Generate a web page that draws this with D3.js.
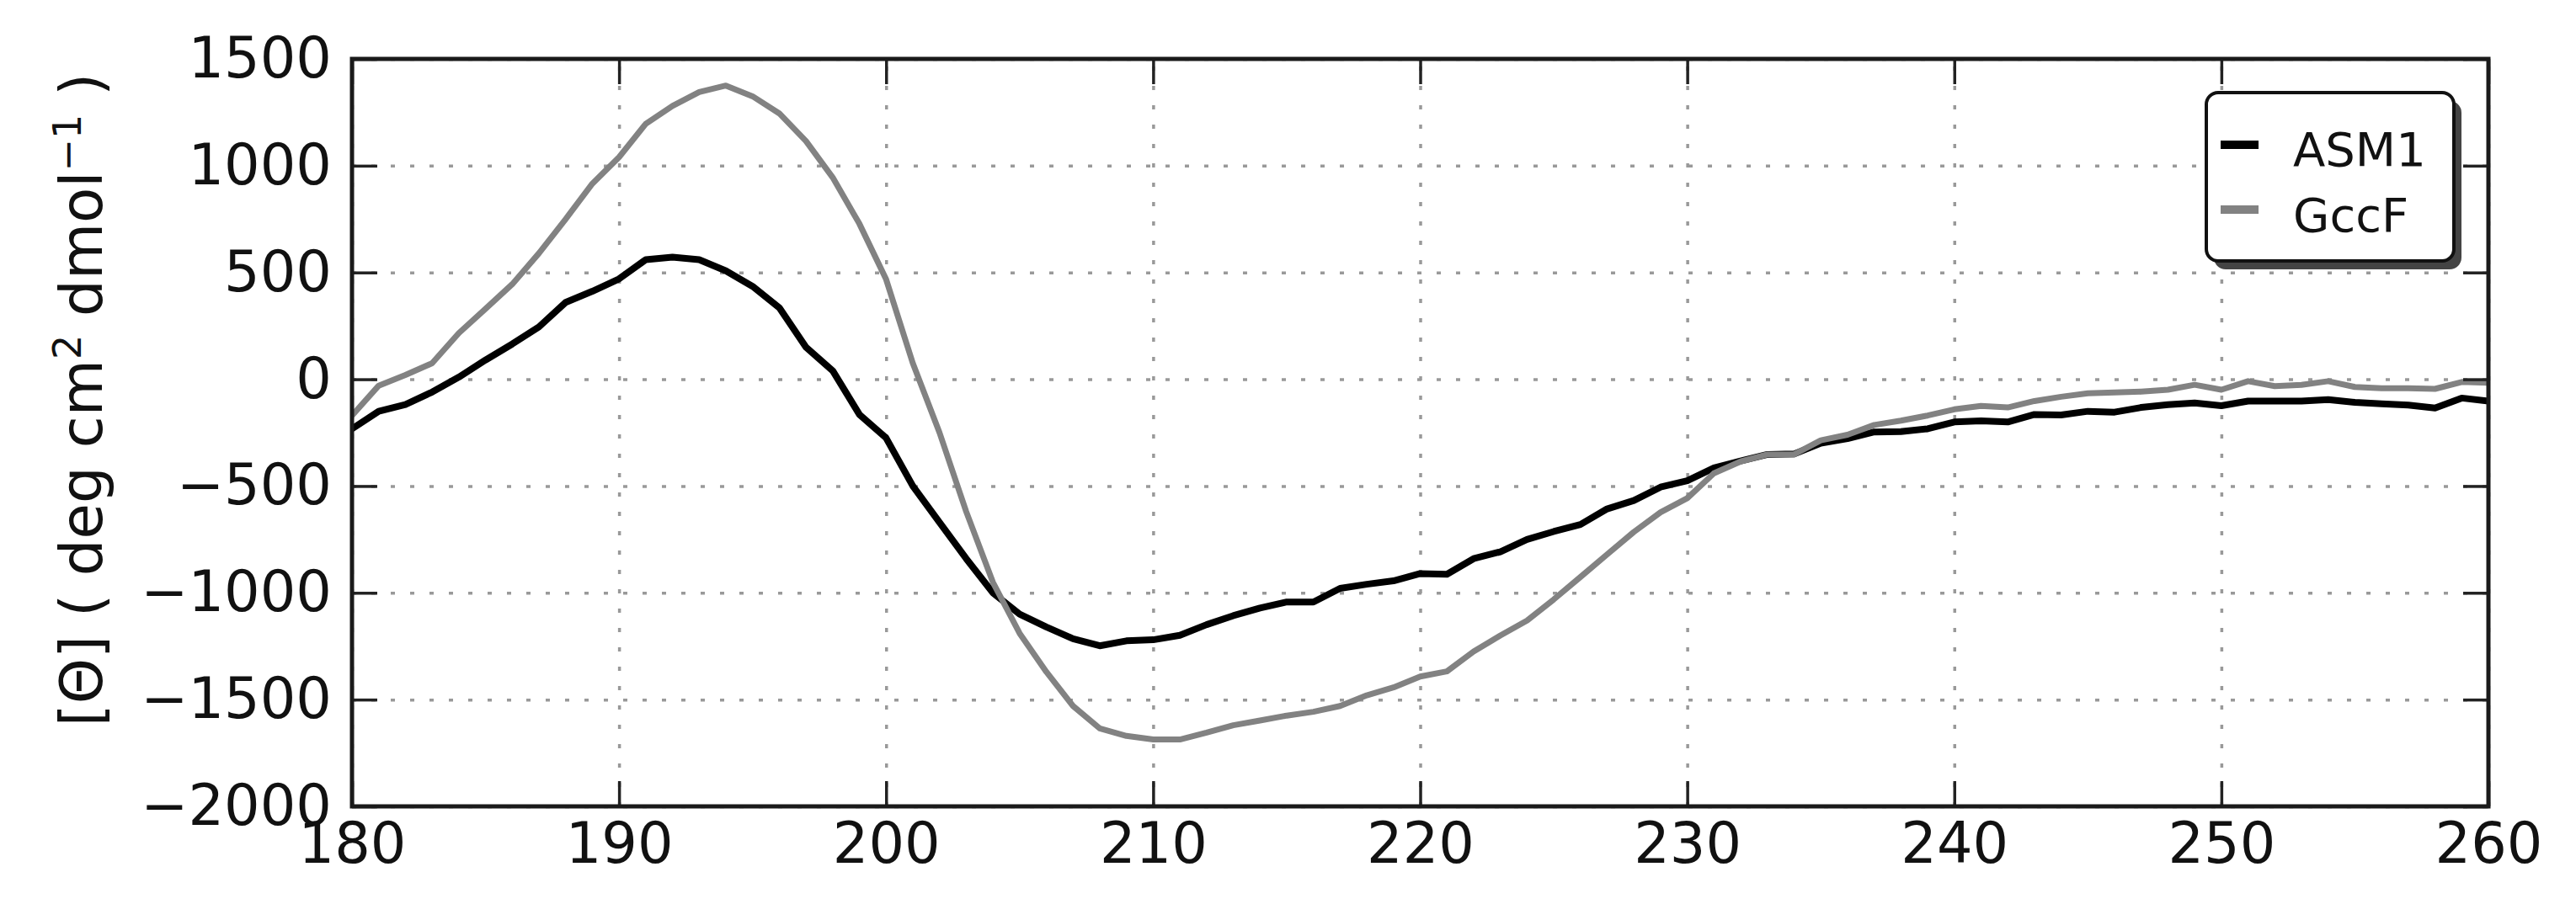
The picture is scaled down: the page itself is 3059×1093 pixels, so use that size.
<!doctype html>
<html>
<head>
<meta charset="utf-8">
<script src="https://d3js.org/d3.v7.min.js"></script>
<style>
body { margin: 0; background: #fff; }
svg text { font-family: "DejaVu Sans", sans-serif; fill: #111; }
</style>
</head>
<body>
<svg id="chart" width="3059" height="1093"></svg>
<script>
// wavelength grid (nm), 1 nm steps
var wavelengths = d3.range(180, 261);

// mean residue ellipticity, one value per nm
var asm1 = [
 -232, -150, -118, -60, 10, 90, 165, 245, 360, 412,
  470, 560, 572, 560, 508, 435, 335, 150, 40, -165,
 -275, -500, -670, -840, -1000, -1100, -1160, -1215, -1248, -1225,
 -1220, -1199, -1149, -1107, -1071, -1043, -1043, -979, -960, -944,
 -910, -913, -840, -808, -750, -713, -680, -607, -568, -505,
 -475, -415, -383, -352, -350, -299, -278, -247, -245, -232,
 -200, -195, -200, -165, -167, -150, -154, -132, -119, -111,
 -124, -102, -102, -102, -95, -108, -115, -121, -135, -88,
 -102
];
var gccf = [
 -170, -30, 20, 75, 216, 330, 445, 590, 750, 916,
 1040, 1196, 1280, 1345, 1375, 1325, 1245, 1115, 945, 728,
  468, 75, -250, -620, -951, -1190, -1370, -1530, -1635, -1670,
 -1687, -1687, -1655, -1620, -1598, -1575, -1557, -1530, -1480, -1443,
 -1392, -1368, -1275, -1200, -1130, -1031, -926, -820, -715, -623,
 -557, -440, -385, -352, -352, -286, -260, -214, -194, -170,
 -141, -125, -132, -102, -82, -66, -62, -58, -49, -26,
  -49, -9, -32, -26, -9, -36, -42, -42, -45, -13,
  -16
];

var seriesNames = ["ASM1", "GccF"];
var seriesColors = ["#000000", "#828282"];

var xTicks = [180, 190, 200, 210, 220, 230, 240, 250, 260];
var yTicks = [-2000, -1500, -1000, -500, 0, 500, 1000, 1500];

var svg = d3.select("#chart");
var pLeft = 418, pRight = 2955, pTop = 70, pBottom = 958;

var x = d3.scaleLinear().domain([180, 260]).range([pLeft, pRight]);
var y = d3.scaleLinear().domain([-2000, 1500]).range([pBottom, pTop]);

var minus = function(d) { return String(d).replace("-", "\u2212"); };

// dotted grid
svg.append("g")
  .attr("transform", "translate(0," + pBottom + ")")
  .call(d3.axisBottom(x).tickValues(xTicks).tickSize(-(pBottom - pTop)).tickFormat(""))
  .call(function(g) {
    g.select(".domain").remove();
    g.selectAll("line").attr("stroke", "#999").attr("stroke-width", 3.5).attr("stroke-dasharray", "5,18");
  });
svg.append("g")
  .attr("transform", "translate(" + pLeft + ",0)")
  .call(d3.axisLeft(y).tickValues(yTicks).tickSize(-(pRight - pLeft)).tickFormat(""))
  .call(function(g) {
    g.select(".domain").remove();
    g.selectAll("line").attr("stroke", "#999").attr("stroke-width", 3.5).attr("stroke-dasharray", "5,18");
  });

// curves
svg.append("defs").append("clipPath").attr("id", "plotclip")
  .append("rect").attr("x", pLeft).attr("y", pTop).attr("width", pRight - pLeft).attr("height", pBottom - pTop);

var line = d3.line()
  .x(function(d, i) { return x(wavelengths[i]); })
  .y(function(d) { return y(d); });

[asm1, gccf].forEach(function(s, i) {
  svg.append("path")
    .datum(s)
    .attr("clip-path", "url(#plotclip)")
    .attr("fill", "none")
    .attr("stroke", seriesColors[i])
    .attr("stroke-width", i == 0 ? 8 : 7)
    .attr("stroke-linejoin", "round")
    .attr("d", line);
});

// axes with inward ticks
function styleAxis(g) {
  g.select(".domain").remove();
  g.selectAll("line").attr("stroke", "#222").attr("stroke-width", 3.5);
  g.selectAll("text").style("font-size", "67px").attr("fill", "#111");
}
svg.append("g")
  .attr("transform", "translate(0," + pBottom + ")")
  .call(d3.axisBottom(x).tickValues(xTicks).tickSize(-30).tickPadding(19).tickFormat(minus))
  .call(styleAxis);
svg.append("g")
  .attr("transform", "translate(" + pLeft + ",0)")
  .call(d3.axisLeft(y).tickValues(yTicks).tickSize(-30).tickPadding(24).tickFormat(minus))
  .call(styleAxis);
svg.append("g")
  .attr("transform", "translate(0," + pTop + ")")
  .call(d3.axisTop(x).tickValues(xTicks).tickSize(-30).tickFormat(""))
  .call(styleAxis);
svg.append("g")
  .attr("transform", "translate(" + pRight + ",0)")
  .call(d3.axisRight(y).tickValues(yTicks).tickSize(-30).tickFormat(""))
  .call(styleAxis);

// frame
svg.append("rect")
  .attr("x", pLeft).attr("y", pTop)
  .attr("width", pRight - pLeft).attr("height", pBottom - pTop)
  .attr("fill", "none").attr("stroke", "#1a1a1a").attr("stroke-width", 5);

// y label
var yl = svg.append("text")
  .attr("transform", "translate(121,475) rotate(-90)")
  .attr("text-anchor", "middle")
  .style("font-size", "69px");
yl.append("tspan").text("[\u0398] ( deg cm");
yl.append("tspan").attr("dy", -25).style("font-size", "46px").text("2");
yl.append("tspan").attr("dy", 25).text("  dmol");
yl.append("tspan").attr("dy", -25).style("font-size", "46px").text("\u22121");
yl.append("tspan").attr("dy", 25).text(" )");

// legend
var lg = svg.append("g").attr("transform", "translate(2620,110)");
lg.append("rect").attr("x", 9).attr("y", 10).attr("width", 294).attr("height", 200)
  .attr("rx", 14).attr("fill", "#444");
lg.append("rect").attr("width", 294).attr("height", 200)
  .attr("rx", 14).attr("fill", "#fff").attr("stroke", "#111").attr("stroke-width", 4);
seriesNames.forEach(function(name, i) {
  lg.append("line")
    .attr("x1", 17).attr("x2", 62)
    .attr("y1", 62 + i * 77).attr("y2", 62 + i * 77)
    .attr("stroke", seriesColors[i]).attr("stroke-width", 10);
  lg.append("text")
    .attr("x", 103).attr("y", 87 + i * 78)
    .style("font-size", "56px")
    .text(name);
});
</script>
</body>
</html>
